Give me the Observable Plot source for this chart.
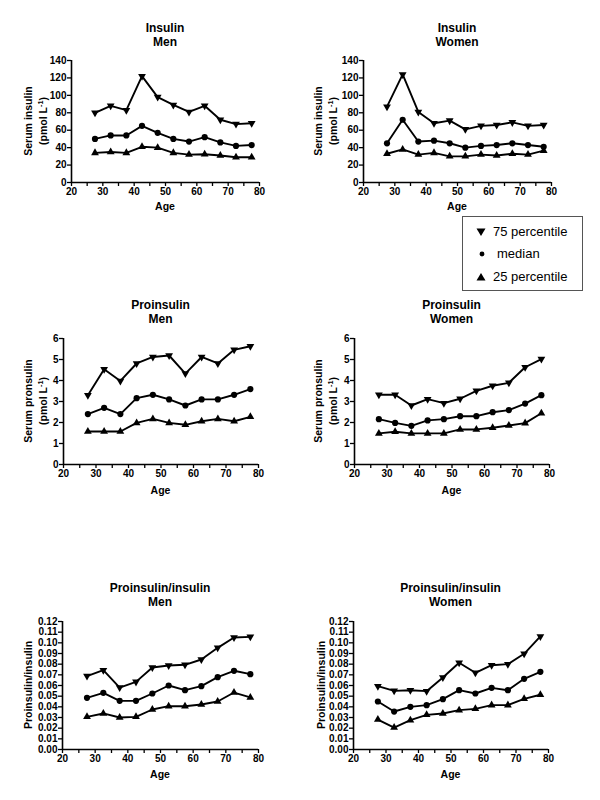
<!DOCTYPE html>
<html><head><meta charset="utf-8">
<script src="https://cdn.jsdelivr.net/npm/d3@7"></script>
<script src="https://cdn.jsdelivr.net/npm/@observablehq/plot@0.6"></script>
<style>
body{margin:0;background:#fff;font-family:"Liberation Sans",Arial,sans-serif;}
#root{position:relative;width:600px;height:800px;overflow:hidden;background:#fff;}
.panel{position:absolute;}
.t{position:absolute;font-weight:bold;color:#000;white-space:nowrap;text-align:center;transform:translate(-50%,-50%);}
.t sup{font-size:0.7em;line-height:0;}
.legend{position:absolute;left:462px;top:216px;width:121px;height:75px;border:1px solid #555;box-sizing:border-box;background:#fff;}
.li{position:absolute;left:0;font-size:13px;color:#000;white-space:nowrap;}
</style></head><body><div id="root"></div>
<script>
// ---- data ----
const ages = [27.5, 32.5, 37.5, 42.5, 47.5, 52.5, 57.5, 62.5, 67.5, 72.5, 77.5];
const seriesNames = ["75 percentile", "median", "25 percentile"];

const insMenP75 = [80, 88, 83, 122, 98, 89, 81, 88, 72, 67, 68];
const insMenMed = [50, 54, 54, 65, 57, 50, 47, 52, 46, 42, 43];
const insMenP25 = [34, 35, 34, 41, 40, 34, 32, 32.5, 31, 29, 29];

const insWomP75 = [87, 124, 81, 68, 71, 61, 65, 66, 69, 65, 66];
const insWomMed = [45, 72, 47, 48, 45, 40, 42, 43, 45, 43, 41];
const insWomP25 = [33, 38, 32, 34, 30, 30, 32, 31, 33, 32, 36.5];

const proMenP75 = [3.3, 4.54, 3.98, 4.81, 5.12, 5.19, 4.33, 5.12, 4.81, 5.46, 5.63];
const proMenMed = [2.4, 2.7, 2.4, 3.16, 3.32, 3.1, 2.81, 3.1, 3.1, 3.32, 3.59];
const proMenP25 = [1.57, 1.57, 1.57, 1.98, 2.17, 1.98, 1.89, 2.06, 2.17, 2.06, 2.27];

const proWomP75 = [3.32, 3.32, 2.81, 3.11, 2.92, 3.13, 3.51, 3.75, 3.89, 4.63, 5.02];
const proWomMed = [2.16, 1.98, 1.84, 2.1, 2.16, 2.3, 2.3, 2.49, 2.59, 2.9, 3.3];
const proWomP25 = [1.48, 1.56, 1.48, 1.48, 1.48, 1.67, 1.67, 1.75, 1.86, 1.97, 2.44];

const ratMenP75 = [0.0688, 0.0744, 0.0581, 0.0634, 0.0769, 0.0788, 0.0794, 0.0844, 0.0953, 0.105, 0.1056];
const ratMenMed = [0.0484, 0.0531, 0.0456, 0.0456, 0.0525, 0.060, 0.0556, 0.0594, 0.0678, 0.0738, 0.0706];
const ratMenP25 = [0.0306, 0.0338, 0.0300, 0.0306, 0.0375, 0.0406, 0.0406, 0.0422, 0.045, 0.0534, 0.0488];

const ratWomP75 = [0.0594, 0.055, 0.0556, 0.0547, 0.0675, 0.0813, 0.0719, 0.079, 0.080, 0.0897, 0.106];
const ratWomMed = [0.045, 0.0356, 0.040, 0.0416, 0.0472, 0.0556, 0.0525, 0.0578, 0.0556, 0.0663, 0.0728];
const ratWomP25 = [0.0281, 0.0206, 0.0275, 0.0325, 0.0338, 0.0369, 0.0381, 0.0416, 0.0416, 0.0475, 0.0513];

const insTicks = [0, 20, 40, 60, 80, 100, 120, 140];
const proTicks = [0, 1, 2, 3, 4, 5, 6];
const ratTicks = [0,1,2,3,4,5,6,7,8,9,10,11,12].map(d => d / 100);
const xMajor = [20, 30, 40, 50, 60, 70, 80];
const xMinor = [25, 35, 45, 55, 65, 75];

// ---- symbols ----
const sqrt3 = Math.sqrt(3);
const triDown = {
  draw(context, size) {
    const y = -Math.sqrt(size / (sqrt3 * 3));
    context.moveTo(0, -y * 2);
    context.lineTo(-sqrt3 * y, y);
    context.lineTo(sqrt3 * y, y);
    context.closePath();
  }
};

const panels = [
  {left: 0, top: 0, height: 220, fl: 71, fr: 259, ft: 60, fb: 182, title: ["Insulin", "Men"], titleY: 28,
   ylab: "Serum insulin<br>(pmol L<sup>-1</sup>)", ylabX: 35.5, ageY: 206,
   s: [insMenP75, insMenMed, insMenP25], dom: [0, 140], ticks: insTicks, fmt: d3.format("d")},
  {left: 300, top: 0, height: 220, fl: 363, fr: 551, ft: 60, fb: 182, title: ["Insulin", "Women"], titleY: 28,
   ylab: "Serum insulin<br>(pmol L<sup>-1</sup>)", ylabX: 325.5, ageY: 206,
   s: [insWomP75, insWomMed, insWomP25], dom: [0, 140], ticks: insTicks, fmt: d3.format("d")},
  {left: 0, top: 260, height: 240, fl: 63, fr: 258, ft: 338, fb: 464, title: ["Proinsulin", "Men"], titleY: 305,
   ylab: "Serum pronsulin<br>(pmol L<sup>-1</sup>)", ylabX: 35.5, ageY: 490,
   s: [proMenP75, proMenMed, proMenP25], dom: [0, 6], ticks: proTicks, fmt: d3.format("d")},
  {left: 300, top: 260, height: 240, fl: 354, fr: 549, ft: 338, fb: 464, title: ["Proinsulin", "Women"], titleY: 305,
   ylab: "Serum pronsulin<br>(pmol L<sup>-1</sup>)", ylabX: 325.5, ageY: 490,
   s: [proWomP75, proWomMed, proWomP25], dom: [0, 6], ticks: proTicks, fmt: d3.format("d")},
  {left: 0, top: 520, height: 280, fl: 62, fr: 258, ft: 621, fb: 749, title: ["Proinsulin/insulin", "Men"], titleY: 588,
   ylab: "Proinsulin/insulin", ylabX: 28, ageY: 774,
   s: [ratMenP75, ratMenMed, ratMenP25], dom: [0, 0.12], ticks: ratTicks, fmt: d3.format(".2f")},
  {left: 300, top: 520, height: 280, fl: 353, fr: 548, ft: 621, fb: 749, title: ["Proinsulin/insulin", "Women"], titleY: 588,
   ylab: "Proinsulin/insulin", ylabX: 321, ageY: 774,
   s: [ratWomP75, ratWomMed, ratWomP25], dom: [0, 0.12], ticks: ratTicks, fmt: d3.format(".2f")}
];

const root = document.getElementById("root");
const symbols = [triDown, "circle", "triangle"];
const radii = [2.9, 3.1, 2.9];

function addText(html, x, y, size, extra) {
  const d = document.createElement("div");
  d.className = "t";
  d.style.left = x + "px";
  d.style.top = y + "px";
  d.style.fontSize = size + "px";
  if (extra) Object.assign(d.style, extra);
  d.innerHTML = html;
  root.appendChild(d);
  return d;
}

for (const p of panels) {
  const marks = [
    Plot.axisX({ticks: xMajor, tickSize: 4, tickPadding: 1, strokeWidth: 1.3, label: null}),
    Plot.axisX({ticks: xMinor, tickSize: 4, strokeWidth: 1.3, tickFormat: () => "", label: null}),
    Plot.axisY({ticks: p.ticks, tickSize: 4, tickPadding: 1, strokeWidth: 1.3, tickFormat: p.fmt, label: null}),
    Plot.ruleX([20], {y1: p.dom[0], y2: p.dom[1], strokeWidth: 1.6}),
    Plot.ruleY([p.dom[0]], {x1: 20, x2: 80, strokeWidth: 1.6})
  ];
  p.s.forEach((vals, k) => {
    const data = ages.map((a, i) => ({age: a, v: vals[i], series: seriesNames[k]}));
    marks.push(Plot.line(data, {x: "age", y: "v", stroke: "black", strokeWidth: 1.9}));
    marks.push(Plot.dot(data, {x: "age", y: "v", symbol: symbols[k], r: radii[k], fill: "black", stroke: "none"}));
  });
  const chart = Plot.plot({
    width: 300,
    height: p.height,
    marginLeft: p.fl - p.left,
    marginRight: p.left + 300 - p.fr,
    marginTop: p.ft - p.top,
    marginBottom: p.top + p.height - p.fb,
    x: {domain: [20, 80]},
    y: {domain: p.dom},
    style: {fontFamily: "'Liberation Sans', Arial, sans-serif", fontSize: "10px", fontWeight: "bold", color: "#000", background: "transparent", overflow: "visible"},
    marks
  });
  const wrap = document.createElement("div");
  wrap.className = "panel";
  wrap.style.left = p.left + "px";
  wrap.style.top = p.top + "px";
  wrap.appendChild(chart);
  root.appendChild(wrap);

  const cx = (p.fl + p.fr) / 2;
  addText(p.title[0], cx, p.titleY, 12);
  addText(p.title[1], cx, p.titleY + 14, 12);
  addText("Age", cx, p.ageY, 10.5);
  addText(p.ylab, p.ylabX, (p.ft + p.fb) / 2, 10.5, {transform: "translate(-50%,-50%) rotate(-90deg)", lineHeight: "15px"});
}

// ---- legend ----
const legend = document.createElement("div");
legend.className = "legend";
const legendGlyphs = [
  '<svg width="10" height="10" style="position:absolute;left:13px;top:-5px"><polygon points="0.5,1.5 9.5,1.5 5,9" fill="black"/></svg>',
  '<svg width="10" height="10" style="position:absolute;left:14px;top:-5px"><circle cx="5" cy="5" r="2.4" fill="black"/></svg>',
  '<svg width="10" height="10" style="position:absolute;left:13px;top:-5px"><polygon points="0.5,8.5 9.5,8.5 5,1" fill="black"/></svg>'
];
const legendY = [15, 37, 60];
seriesNames.forEach((name, k) => {
  const it = document.createElement("div");
  it.className = "li";
  it.style.top = legendY[k] + "px";
  it.innerHTML = legendGlyphs[k] + '<span style="position:absolute;left:' + (k === 1 ? 34 : 30) + 'px;top:-8px">' + name + '</span>';
  legend.appendChild(it);
});
root.appendChild(legend);
</script>
</body></html>
